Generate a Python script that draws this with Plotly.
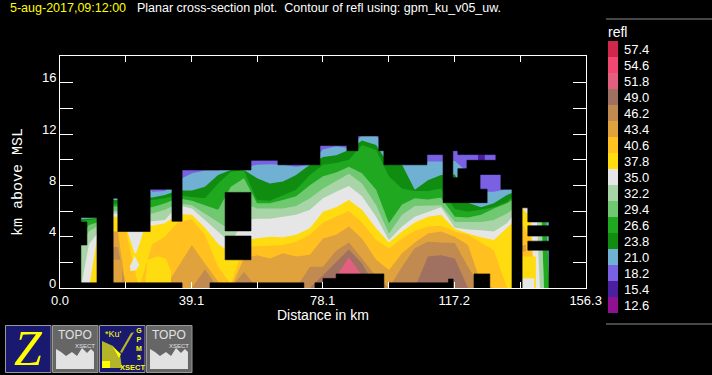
import plotly.graph_objects as go

# ---- data (distance in km, heights in km, refl in dBZ) ----
refl_levels = [12.6, 15.4, 18.2, 21.0, 23.8, 26.6, 29.4, 32.2, 35.0, 37.8, 40.6, 43.4, 46.2, 49.0, 51.8, 54.6, 57.4]
refl_colors = ["#8f1091", "#4a1fa0", "#7a60e2", "#70b0d2", "#108c10", "#20a820", "#70c870", "#a8d4a8",
               "#e6e6e6", "#ffdc10", "#ffc020", "#e0a23c", "#c08a50", "#a07060", "#e0607e", "#f04870", "#d0284c"]

distance_km = [6.2, 8.6, 11.0, 15.8, 17.2, 19.6, 23.5, 27.4, 31.2, 35.1,
               39.2, 43.1, 47.0, 50.8, 54.7, 58.6, 62.4, 66.3, 70.2, 74.3,
               78.2, 82.1, 85.9, 89.8, 94.0, 97.8, 101.7, 105.5, 109.4, 113.3,
               117.4, 121.3, 125.2, 129.0, 132.9, 134.4,
               137.4, 140.0, 141.2, 142.7, 143.9, 145.4]

top_18_2 = [12.5] * 42
top_21_0 = [9, 9, 9, 9, 9, 9, 9, 7.5, 7.55, 8.4,
            8.95, 9.15, 9.15, 9.4, 9.4, 9.6, 9.65, 9.6, 9.45, 9.6,
            10.8, 11.05, 10.9, 11.9, 11.9, 10.6, 9.7, 9.7, 9.85, 9.85,
            9.9, 9.0, 7.5, 7.5, 7.7, 7.7,
            9, 9, 9, 9, 9, 9]
top_23_8 = [5.35, 5.4, 5.45, 6.85, 6.85, 7, 7, 7.05, 7.25, 7.6,
            7.6, 7.9, 8.8, 9.2, 9.2, 8.55, 8.15, 8.3, 8.8, 9.6,
            10.2, 10.35, 10.75, 11.5, 11.15, 9.6, 9.6, 7.65, 8.4, 8.8,
            8.85, 6.65, 6.3, 6.6, 7.25, 7.4,
            9, 9, 9, 9, 9, 0]
top_26_6 = [5.2, 5.3, 5.4, 6.55, 6.55, 6.8, 6.8, 6.85, 7.0, 7.25,
            7.1, 7.0, 8.15, 9.05, 9.15, 6.85, 6.8, 7.25, 7.65, 8.8,
            9.6, 9.75, 10.0, 11.15, 10.75, 8.7, 7.75, 7.55, 7.55, 7.75,
            6.15, 5.95, 6.1, 6.3, 6.7, 7.05,
            9, 9, 9, 9, 9, 0]
top_29_4 = [4.0, 4.9, 5.1, 6.35, 6.35, 6.3, 6.3, 6.3, 6.6, 7.0,
            6.8, 6.45, 6.1, 7.9, 8.55, 6.6, 6.6, 6.85, 7.15, 8.0,
            8.7, 9.0, 9.45, 8.95, 7.65, 5.05, 6.5, 7.0, 6.9, 7.05,
            5.55, 5.5, 5.7, 6.2, 6.6, 6.85,
            9, 9, 9, 9, 0, 0]
top_32_2 = [3.4, 4.4, 4.8, 6.0, 6.0, 5.8, 5.8, 5.8, 6.1, 6.6,
            6.45, 5.8, 5.15, 4.5, 6.6, 6.2, 6.2, 6.2, 6.4, 7.0,
            7.75, 8.3, 8.9, 8.15, 6.45, 4.25, 5.7, 6.4, 6.4, 6.45,
            5.15, 5.15, 5.15, 5.3, 5.8, 6.1,
            9, 9, 9, 9, 0, 0]
top_35_0 = [0, 3.4, 4.2, 5.8, 5.8, 5.2, 5.2, 5.2, 5.3, 6.45,
            6.2, 5.3, 4.4, 3.5, 5.3, 5.4, 5.4, 5.55, 5.7, 6.1,
            7.0, 7.5, 7.95, 7.15, 5.55, 3.75, 4.8, 5.55, 5.95, 6.3,
            4.7, 4.55, 4.5, 4.4, 5.05, 5.55,
            9, 9, 9, 0, 0, 0]
top_37_8 = [0, 0, 3.8, 5.55, 5.55, 5, 5, 4.85, 5.05, 5.75,
            5.7, 4.7, 3.45, 2.7, 3.75, 3.85, 4.0, 3.95, 4.15, 4.65,
            5.95, 6.3, 6.85, 6.1, 4.65, 3.55, 4.4, 5.1, 5.55, 5.7,
            4.6, 4.25, 3.95, 3.75, 4.65, 5.05,
            6.25, 5.5, 0, 0, 0, 0]
top_40_6 = [0, 0, 0, 4.4, 4.4, 4.4, 0, 3.4, 4.0, 5.15,
            5.35, 4.15, 1.65, 0.3, 3.2, 3.25, 3.25, 3.35, 3.6, 4.15,
            5.1, 5.55, 6.0, 5.1, 3.75, 3.1, 3.85, 4.45, 4.8, 4.85,
            4.4, 4.15, 3.55, 2.95, 0, 0,
            5.0, 3.8, 0, 0, 0, 0]
top_43_4 = [0, 0, 0, 4.4, 4.4, 0, 0, 0, 0, 1.65,
            3.35, 1.9, 0.5, 0, 2.3, 2.55, 2.3, 2.7, 2.45, 2.6,
            3.85, 4.15, 4.8, 3.85, 2.2, 1.4, 2.7, 3.55, 4.25, 4.4,
            4.0, 3.35, 0.35, 0, 0, 0,
            0, 0, 0, 0, 0, 0]
top_46_2 = [0, 0, 0, 3.2, 3.2, 0, 0, 0, 0, 0,
            0, 1.45, 0, 0, 1.25, 0, 0, 0, 0, 1.65,
            1.65, 2.9, 3.55, 2.3, 0.9, 0, 1.65, 3.1, 3.6, 3.55,
            3.5, 1.65, 0, 0, 0, 0,
            0, 0, 0, 0, 0, 0]
top_49_0 = [0, 0, 0, 0, 0, 0, 0, 0, 0, 0,
            0, 0, 0, 0, 0, 0, 0, 0, 0, 0,
            1.0, 2.05, 3.0, 1.9, 0, 0, 0, 0, 2.45, 2.55,
            2.3, 0, 0, 0, 0, 0,
            0, 0, 0, 0, 0, 0]
top_51_8 = [0, 0, 0, 0, 0, 0, 0, 0, 0, 0,
            0, 0, 0, 0, 0, 0, 0, 0, 0, 0,
            0, 0.9, 2.4, 1.0, 0, 0, 0, 0, 0, 0,
            0, 0, 0, 0, 0, 0,
            0, 0, 0, 0, 0, 0]

# closed cells of different reflectivity inside the bands: (refl, distances, heights)
cell_tan = (43.4, [15.8, 18.5, 18.5, 15.8], [0, 0, 2.2, 2.2])
cell_white_a = (35.0, [20.0, 24.8, 23.6, 22.6, 22.2, 21.4], [4.45, 4.45, 3.4, 2.7, 2.7, 3.4])
cell_white_b = (35.0, [22.2, 23.6, 22.6, 21.0, 20.8], [2.5, 1.8, 1.4, 1.3, 1.7])
cell_yellow_a = (37.8, [25.6, 26.0, 29.0, 31.5, 33.0, 33.0, 25.4], [1.0, 2.2, 2.45, 2.3, 1.3, 0.4, 0.4])
cell_yellow_b = (37.8, [137.4, 141.5, 141.5, 137.4], [0, 0, 2.45, 2.45])
cell_white_c = (35.0, [137.4, 141.0, 141.0, 137.4], [0, 0, 0.75, 0.75])
cell_tan_b = (43.4, [137.4, 138.6, 138.6, 137.4], [2.85, 2.85, 3.35, 3.35])
cell_violet = (15.4, [124.3, 126.3, 126.3, 124.3], [9.95, 9.95, 10.4, 10.4])
cells = [cell_tan, cell_yellow_a, cell_white_a, cell_white_b, cell_yellow_b, cell_white_c, cell_tan_b, cell_violet]

# areas with no echo: distance from, distance to, height from, height to
blank_x0 = [0, 6.2, 6.2, 11.0, 15.8, 17.2, 26.8, 33.3, 36.3, 49.1, 49.1, 56.8, 64.8, 77.3, 85.3, 88.6,
            94.8, 96.3, 109.1, 113.9, 116.8, 116.8, 118.3, 118.3, 121.0, 124.9, 124.9, 129.6, 131.1,
            134.4, 137.4, 139.1, 139.1, 139.1, 145.4,
            6.2, 44.6, 75.8, 78.2, 82.1, 97.8, 115.5, 123.1]
blank_x1 = [6.2, 11.0, 8.0, 15.8, 17.2, 26.8, 33.3, 36.3, 56.8, 56.8, 56.8, 64.8, 77.3, 85.3, 88.6, 94.8,
            96.3, 109.1, 113.9, 116.8, 118.3, 118.3, 129.6, 121.0, 124.9, 129.6, 127.0, 131.1, 134.4,
            137.4, 139.1, 145.4, 145.4, 145.4, 157,
            36.3, 72.5, 78.2, 82.1, 96.3, 115.5, 116.9, 127.8]
blank_y0 = [0, 5.5, 3.35, 0, 7.0, 4.4, 7.7, 5.2, 9.2, 4.45, 2.2, 9.95, 9.6, 11.1, 10.7, 11.85,
            10.7, 9.6, 10.4, 6.65, 10.7, 6.65, 10.4, 6.65, 6.65, 8.85, 6.65, 8.85, 7.7,
            0, 6.25, 5.15, 4.05, 2.95, 0,
            0, 0, 0, 0, 0, 0, 0, 0]
blank_y1 = [18.2, 18.2, 5.15, 18.2, 18.2, 18.2, 18.2, 18.2, 18.2, 7.45, 4.05, 18.2, 18.2, 18.2, 18.2, 18.2,
            18.2, 18.2, 18.2, 18.2, 18.2, 8.6, 18.2, 9.3, 9.95, 9.95, 7.7, 18.2, 18.2,
            18.2, 18.2, 18.2, 4.85, 3.65, 18.2,
            0.4, 0.4, 0.4, 0.75, 1.1, 0.4, 0.7, 1.1]

x_tick_vals = [0, 19.55, 39.1, 58.65, 78.1, 97.7, 117.2, 136.8, 156.3]
x_tick_text = ["0.0", "", "39.1", "", "78.1", "", "117.2", "", "156.3"]
y_tick_vals = [0, 2, 4, 6, 8, 10, 12, 14, 16]
y_label_vals = [0, 4, 8, 12, 16]

title_time = "5-aug-2017,09:12:00"
title_main = "Planar cross-section plot.\u00a0\u00a0Contour of refl using: gpm_ku_v05_uw."

W, H = 712, 375
FONT = "Liberation Sans"
color_of = dict(zip(refl_levels, refl_colors))

fig = go.Figure()
band_tops = [(18.2, top_18_2), (21.0, top_21_0), (23.8, top_23_8), (26.6, top_26_6), (29.4, top_29_4),
             (32.2, top_32_2), (35.0, top_35_0), (37.8, top_37_8), (40.6, top_40_6), (43.4, top_43_4),
             (46.2, top_46_2), (49.0, top_49_0), (51.8, top_51_8)]
for level, tops in band_tops:
    fig.add_trace(go.Scatter(x=distance_km, y=tops, mode="lines", fill="tozeroy", name=str(level),
                             line=dict(width=0, color=color_of[level]), fillcolor=color_of[level],
                             hoverinfo="skip", showlegend=False))
for level, cx, cy in cells:
    fig.add_trace(go.Scatter(x=cx + cx[:1], y=cy + cy[:1], mode="lines", fill="toself",
                             line=dict(width=0, color=color_of[level]), fillcolor=color_of[level],
                             hoverinfo="skip", showlegend=False))
bx, by = [], []
for a, b, c, d in zip(blank_x0, blank_x1, blank_y0, blank_y1):
    bx += [a, b, b, a, a, None]
    by += [c, c, d, d, c, None]
fig.add_trace(go.Scatter(x=bx, y=by, mode="lines", fill="toself", line=dict(width=0.6, color="black"),
                         fillcolor="black", hoverinfo="skip", showlegend=False))

# colour key
n = len(refl_levels)
scale = []
for i, c in enumerate(refl_colors):
    scale += [[i / n, c], [(i + 1) / n, c]]
fig.add_trace(go.Heatmap(z=[[i] for i in range(n)], y=[f"{v:.1f}" for v in refl_levels], x=["refl"],
                         xaxis="x2", yaxis="y2", colorscale=scale, zmin=-0.5, zmax=n - 0.5,
                         showscale=False, hoverinfo="skip"))

axis_common = dict(showline=True, linecolor="white", linewidth=1, mirror="ticks", showgrid=False, zeroline=False,
                   ticks="inside", tickcolor="white", tickwidth=1,
                   tickfont=dict(family=FONT, size=13, color="white"))
fig.update_layout(
    width=W, height=H, paper_bgcolor="black", plot_bgcolor="black", showlegend=False,
    margin=dict(l=0, r=0, t=0, b=0, autoexpand=False),
    xaxis=dict(domain=[60 / W, 586 / W], range=[0, 156.4], tickmode="array", tickvals=x_tick_vals,
               ticktext=x_tick_text, ticklen=6, **axis_common),
    yaxis=dict(domain=[1 - 288 / H, 1 - 56 / H], range=[0, 18.08], tickmode="array", tickvals=y_tick_vals,
               showticklabels=False, ticklen=13, **axis_common),
    xaxis2=dict(domain=[608 / W, 618 / W], anchor="y2", visible=False),
    yaxis2=dict(domain=[1 - 313 / H, 1 - 41 / H], anchor="x2", side="right", type="category", showgrid=False,
                zeroline=False, showline=False, ticks="", ticklabelstandoff=5,
                tickfont=dict(family=FONT, size=13, color="white")),
)

# height labels sit just above their tick marks
for v in y_label_vals:
    fig.add_annotation(xref="paper", yref="y", x=57 / W, y=v, yshift=5, text=str(v), showarrow=False,
                       xanchor="right", yanchor="middle", borderpad=0,
                       font=dict(family=FONT, size=13, color="white"))

def px(x): return x / W
def py(y): return 1 - y / H

def text(x, y, s, size=12, color="white", family=FONT, anchor="left", angle=0):
    fig.add_annotation(xref="paper", yref="paper", x=px(x), y=py(y), text=s, showarrow=False, xanchor=anchor,
                       yanchor="middle", textangle=angle, font=dict(family=family, size=size, color=color),
                       borderpad=0, borderwidth=0)

def rect(x0, y0, x1, y1, fill, line=None, width=0):
    fig.add_shape(type="rect", xref="paper", yref="paper", x0=px(x0), x1=px(x1), y0=py(y0), y1=py(y1),
                  fillcolor=fill, line=dict(color=line or fill, width=width), layer="above")

def poly(points, fill):
    d = "M " + " L ".join(f"{px(a):.4f} {py(b):.4f}" for a, b in points) + " Z"
    fig.add_shape(type="path", xref="paper", yref="paper", path=d, fillcolor=fill, line=dict(width=0), layer="above")

text(10, 8, title_time, 12.5, "#ffff00")
text(137, 8, title_main, 12.5)
text(323, 315, "Distance in km", 14, anchor="center")
text(18, 182, "km above MSL", 15, family="Liberation Mono", anchor="center", angle=-90)
text(608, 32, "refl", 14)

for yy in (19, 324):
    fig.add_shape(type="line", xref="paper", yref="paper", x0=px(606), x1=1, y0=py(yy), y1=py(yy),
                  line=dict(color="#8c8c8c", width=1))

# icon buttons
NAVY, GREY, LIGHT, YEL = "#191970", "#666666", "#e2e2e2", "#ffff00"
def button(x, fill):
    rect(x + 0.5, 325.5, x + 46, 372.5, fill, "#999999", 1)

def topo(x):
    button(x, GREY)
    poly([(x + 4, 369), (x + 4, 349), (x + 9, 352), (x + 14, 356), (x + 20, 352), (x + 25, 356), (x + 30, 348),
          (x + 35, 353), (x + 39, 349), (x + 42, 352), (x + 42, 369)], LIGHT)
    text(x + 23, 335, "TOPO", 12, LIGHT, anchor="center")
    text(x + 33, 346, "XSECT", 6, LIGHT, anchor="center")

button(5, NAVY)
text(28, 348, "<i>Z</i>", 50, YEL, family="Liberation Serif", anchor="center")
topo(52)
button(99, NAVY)
poly([(102, 368), (102, 341), (113, 346), (120, 354), (122, 368)], "#b4b428")
poly([(102, 368), (102, 361), (110, 361), (110, 368)], YEL)
poly([(113, 347), (121, 354), (119, 358)], YEL)
poly([(131, 333), (134, 332), (122, 353), (120, 352)], "#b4b428")
text(113, 334, "*Ku'", 9, YEL, anchor="center")
text(139, 344, "<b>G<br>P<br>M<br>5</b>", 7, YEL, anchor="center")
text(132, 367, "<b>XSECT</b>", 7.5, YEL, anchor="center")
topo(146)

fig.write_html("out.html", config={"displayModeBar": False},
               post_script="document.body.style.margin='0';document.body.style.background='black';document.documentElement.style.overflow='hidden';")
